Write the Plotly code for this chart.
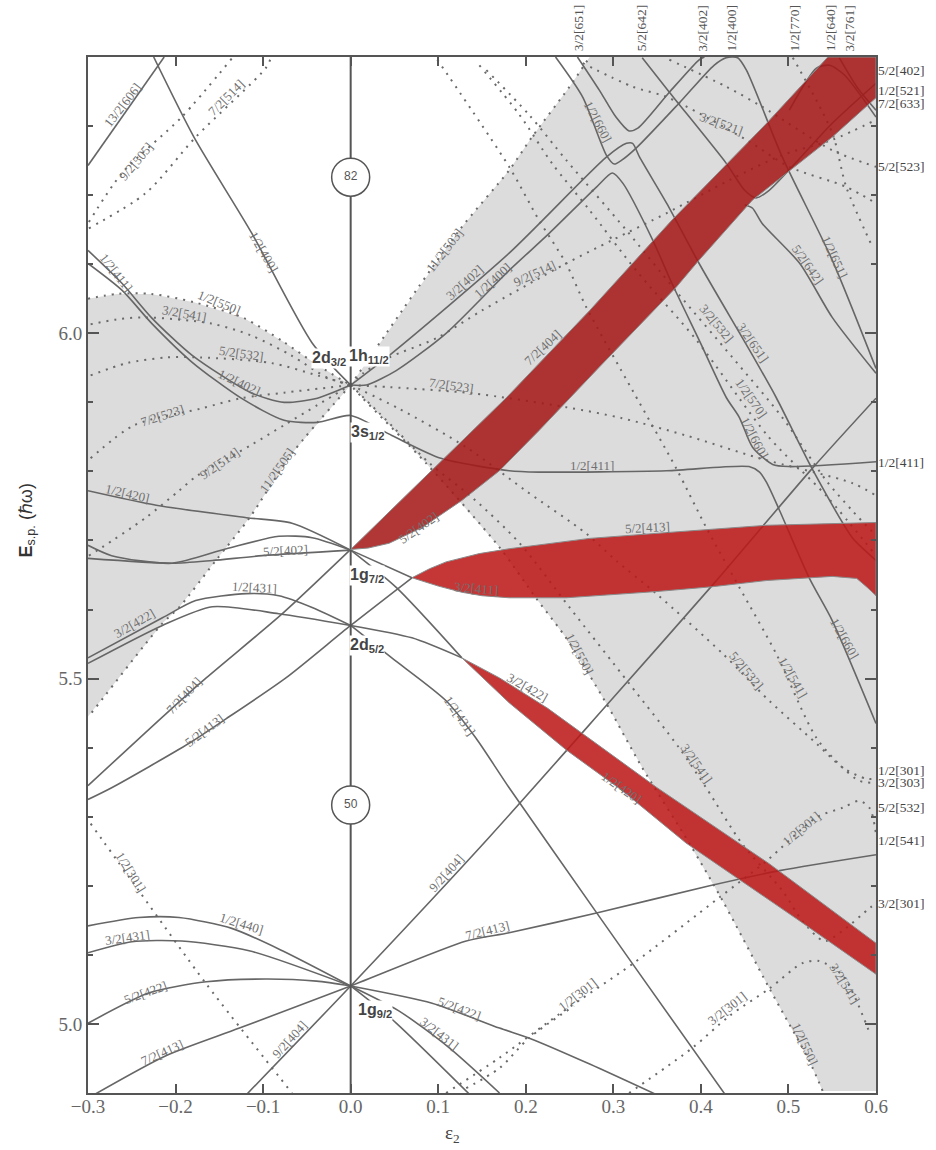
import plotly.graph_objects as go

# Axis
X_RANGE = [-0.3, 0.6]
Y_RANGE = [4.9, 6.4]
X_TICKS = [-0.3, -0.2, -0.1, 0.0, 0.1, 0.2, 0.3, 0.4, 0.5, 0.6]
X_TICK_TEXT = ["\u22120.3", "\u22120.2", "\u22120.1", "0.0", "0.1", "0.2", "0.3", "0.4", "0.5", "0.6"]
Y_TICKS = [5.0, 5.5, 6.0]
Y_TICK_TEXT = ["5.0", "5.5", "6.0"]

# Grey (unfavoured) regions: boundary orbitals
edge_550L = [(-0.3, 6.05), (-0.267, 6.057), (-0.228, 6.057), (-0.179, 6.045), (-0.122, 6.022), (-0.076, 5.987), (-0.038, 5.954), (0, 5.925)]
edge_505 = [(0, 5.925), (-0.067, 5.826), (-0.116, 5.732), (-0.154, 5.671), (-0.196, 5.603), (-0.215, 5.58), (-0.297, 5.449), (-0.3, 5.445)]
edge_503 = [(0, 5.925), (0.124, 6.149), (0.181, 6.236), (0.207, 6.284), (0.25, 6.357), (0.273, 6.4)]
edge_550R = [(0.539, 4.903), (0.524, 4.946), (0.478, 5.052), (0.425, 5.178), (0.387, 5.261), (0.333, 5.371), (0.292, 5.464), (0.246, 5.559), (0.212, 5.616), (0.17, 5.69), (0.086, 5.812), (0.013, 5.907), (0, 5.925)]
right_corners = [(0.6, 6.4), (0.6, 4.903)]

# Red bands
band1 = [(0, 5.687), (0.101, 5.812), (0.178, 5.907), (0.273, 6.033), (0.367, 6.164), (0.475, 6.304), (0.545, 6.4), (0.6, 6.4), (0.6, 6.341), (0.55, 6.284), (0.459, 6.193), (0.398, 6.106), (0.372, 6.067), (0.284, 5.951), (0.215, 5.859), (0.17, 5.801), (0.127, 5.758), (0.082, 5.719), (0.044, 5.696), (0.02, 5.689), (0, 5.687)]
band2 = [(0.07, 5.646), (0.09, 5.659), (0.109, 5.669), (0.147, 5.681), (0.181, 5.688), (0.273, 5.703), (0.367, 5.712), (0.475, 5.722), (0.6, 5.726), (0.6, 5.62), (0.59, 5.632), (0.578, 5.645), (0.55, 5.648), (0.475, 5.642), (0.413, 5.633), (0.349, 5.626), (0.246, 5.617), (0.181, 5.617), (0.15, 5.62), (0.127, 5.625), (0.1, 5.634), (0.07, 5.646)]
band3 = [(0.127, 5.53), (0.17, 5.501), (0.225, 5.457), (0.35, 5.342), (0.478, 5.232), (0.6, 5.117), (0.6, 5.072), (0.513, 5.149), (0.383, 5.262), (0.31, 5.338), (0.247, 5.396), (0.181, 5.465), (0.127, 5.53)]

# Positive-parity / solid orbitals
solid_curves = [
    [(-0.3, 6.243), (-0.213, 6.4)],
    [(-0.225, 6.4), (-0.179, 6.284), (-0.113, 6.145), (-0.044, 5.986), (0, 5.925)],
    [(-0.3, 6.12), (-0.261, 6.072), (-0.227, 6.022), (-0.181, 5.968), (-0.114, 5.914), (-0.076, 5.9), (-0.038, 5.906), (0, 5.925)],
    [(-0.3, 6.101), (-0.261, 6.062), (-0.227, 6.014), (-0.181, 5.958), (-0.125, 5.906), (-0.076, 5.874), (-0.038, 5.871), (0, 5.881), (0.047, 5.852), (0.103, 5.819), (0.181, 5.801), (0.215, 5.799), (0.361, 5.801), (0.455, 5.807), (0.467, 5.799), (0.475, 5.784), (0.49, 5.743), (0.524, 5.645), (0.55, 5.584), (0.6, 5.435)],
    [(0, 5.925), (0.047, 5.971), (0.181, 6.116), (0.292, 6.255), (0.315, 6.275), (0.322, 6.275), (0.33, 6.255), (0.361, 6.188), (0.398, 6.101), (0.459, 5.968), (0.486, 5.907), (0.527, 5.804), (0.573, 5.704), (0.587, 5.686), (0.6, 5.671)],
    [(0, 5.925), (0.018, 5.925), (0.052, 5.946), (0.109, 6.0), (0.181, 6.091), (0.227, 6.145), (0.281, 6.212), (0.299, 6.232), (0.311, 6.217), (0.345, 6.135), (0.367, 6.072), (0.398, 5.99), (0.429, 5.907), (0.444, 5.878), (0.459, 5.835), (0.482, 5.81), (0.501, 5.807), (0.6, 5.814)],
    [(0.234, 6.4), (0.265, 6.342), (0.292, 6.258), (0.301, 6.245), (0.31, 6.251), (0.326, 6.268), (0.375, 6.333), (0.415, 6.388), (0.429, 6.399), (0.442, 6.399), (0.452, 6.381), (0.493, 6.255), (0.55, 6.106), (0.6, 5.949)],
    [(0.259, 6.4), (0.284, 6.352), (0.303, 6.313), (0.318, 6.293), (0.328, 6.297), (0.364, 6.349), (0.398, 6.396), (0.404, 6.4)],
    [(0.333, 6.399), (0.364, 6.349), (0.429, 6.246), (0.45, 6.207), (0.463, 6.196), (0.478, 6.207), (0.55, 6.304), (0.6, 6.362)],
    [(0.45, 6.186), (0.459, 6.181), (0.47, 6.159), (0.513, 6.101), (0.55, 6.023), (0.6, 5.942)],
    [(0.501, 6.323), (0.532, 6.384), (0.547, 6.388), (0.564, 6.374), (0.6, 6.313)],
    [(0.558, 6.399), (0.579, 6.355), (0.6, 6.323)],
    [(-0.118, 4.899), (0, 5.055), (0.158, 5.27), (0.292, 5.461), (0.413, 5.635), (0.527, 5.804), (0.6, 5.906)],
    [(-0.3, 5.325), (-0.273, 5.342), (-0.185, 5.406), (-0.142, 5.442), (-0.074, 5.501), (0, 5.577), (0.07, 5.646)],
    [(-0.3, 5.345), (-0.211, 5.449), (-0.165, 5.501), (-0.078, 5.594), (0, 5.687)],
    [(0, 5.577), (0.047, 5.53), (0.109, 5.468), (0.143, 5.414), (0.181, 5.342), (0.282, 5.159), (0.322, 5.087), (0.427, 4.899)],
    [(0, 5.686), (0.07, 5.646)],
    [(0, 5.686), (0.052, 5.632), (0.127, 5.53)],
    [(0, 5.577), (0.07, 5.559), (0.127, 5.53)],
    [(-0.3, 5.674), (-0.204, 5.667), (-0.158, 5.671), (-0.101, 5.678), (0, 5.686)],
    [(-0.3, 5.772), (-0.222, 5.751), (-0.119, 5.733), (-0.067, 5.725), (0, 5.686)],
    [(-0.3, 5.693), (-0.273, 5.678), (-0.204, 5.667), (-0.142, 5.688), (-0.082, 5.706), (-0.044, 5.704), (0, 5.686)],
    [(-0.3, 5.522), (-0.215, 5.577), (-0.158, 5.604), (-0.082, 5.594), (0, 5.577)],
    [(-0.3, 5.53), (-0.215, 5.588), (-0.177, 5.613), (-0.119, 5.623), (-0.082, 5.62), (-0.044, 5.603), (0, 5.577)],
    [(-0.3, 5.142), (-0.242, 5.154), (-0.196, 5.154), (-0.135, 5.138), (-0.078, 5.106), (0, 5.055)],
    [(-0.3, 5.103), (-0.25, 5.119), (-0.193, 5.12), (-0.116, 5.106), (0, 5.055)],
    [(-0.3, 5.001), (-0.23, 5.045), (-0.165, 5.061), (-0.097, 5.065), (-0.039, 5.062), (0, 5.055)],
    [(-0.291, 4.899), (-0.211, 4.954), (-0.127, 4.994), (0, 5.055), (0.132, 5.12), (0.181, 5.132), (0.282, 5.161), (0.41, 5.2), (0.49, 5.222), (0.6, 5.245)],
    [(0, 5.055), (0.093, 5.03), (0.17, 4.994), (0.207, 4.978), (0.273, 4.942), (0.347, 4.899)],
    [(0, 5.055), (0.055, 5.019), (0.113, 4.965), (0.17, 4.9)],
    [(0, 5.055), (0.047, 5.007), (0.135, 4.899)],
]

# Negative-parity / dotted orbitals
dotted_curves = [
    edge_550L, edge_505, edge_503, edge_550R,
    [(-0.297, 5.29), (-0.242, 5.193), (-0.165, 5.058), (-0.067, 4.9)],
    [(-0.299, 6.161), (-0.261, 6.232), (-0.193, 6.313), (-0.135, 6.399)],
    [(-0.299, 6.152), (-0.234, 6.203), (-0.177, 6.284), (-0.097, 6.384), (-0.091, 6.399)],
    [(0.099, 6.396), (0.181, 6.241), (0.215, 6.164), (0.246, 6.101), (0.269, 6.038), (0.322, 5.917), (0.372, 5.804), (0.406, 5.719), (0.444, 5.632), (0.486, 5.536), (0.532, 5.414), (0.562, 5.371), (0.581, 5.352), (0.6, 5.349)],
    [(0.155, 6.381), (0.204, 6.316), (0.246, 6.251), (0.315, 6.149), (0.373, 6.059), (0.436, 5.965), (0.493, 5.878), (0.543, 5.787), (0.573, 5.743), (0.6, 5.707)],
    [(0.147, 6.388), (0.193, 6.316), (0.23, 6.246), (0.273, 6.178), (0.326, 6.091), (0.395, 5.99), (0.478, 5.849), (0.543, 5.765), (0.6, 5.678)],
    [(0, 5.925), (0.015, 5.943), (0.044, 5.965), (0.098, 5.993), (0.15, 6.033), (0.246, 6.101), (0.299, 6.135), (0.361, 6.174), (0.433, 6.222), (0.493, 6.258), (0.55, 6.28), (0.6, 6.309)],
    [(0, 5.925), (0.044, 5.922), (0.139, 5.913), (0.246, 5.893), (0.31, 5.877), (0.383, 5.852), (0.467, 5.819), (0.573, 5.783), (0.6, 5.765)],
    [(0.265, 6.391), (0.322, 6.357), (0.361, 6.342), (0.452, 6.28), (0.501, 6.241), (0.566, 6.212), (0.6, 6.188)],
    [(0.364, 6.396), (0.429, 6.357), (0.47, 6.328), (0.55, 6.265), (0.6, 6.241)],
    [(0.505, 6.399), (0.55, 6.29), (0.566, 6.212), (0.596, 6.125)],
    [(0, 5.925), (0.055, 5.891), (0.132, 5.835), (0.2, 5.772), (0.269, 5.71), (0.303, 5.671), (0.349, 5.623), (0.425, 5.536), (0.478, 5.468), (0.532, 5.406), (0.562, 5.371), (0.589, 5.355), (0.6, 5.355)],
    [(0, 5.925), (0.033, 5.884), (0.09, 5.812), (0.139, 5.762), (0.193, 5.696), (0.25, 5.603), (0.318, 5.493), (0.375, 5.4), (0.406, 5.342), (0.447, 5.261), (0.493, 5.193), (0.516, 5.149), (0.541, 5.12), (0.562, 5.135), (0.593, 5.168), (0.6, 5.174)],
    [(0.318, 4.9), (0.39, 4.965), (0.433, 5.012), (0.478, 5.051), (0.516, 5.088), (0.535, 5.091), (0.562, 5.07), (0.593, 4.986)],
    [(0.109, 4.9), (0.17, 4.951), (0.238, 5.014), (0.322, 5.087), (0.421, 5.183), (0.475, 5.236), (0.532, 5.299), (0.562, 5.313), (0.581, 5.323), (0.593, 5.312), (0.6, 5.275)],
    [(0.132, 4.907), (0.17, 4.936), (0.204, 4.98), (0.255, 5.026)],
    [(-0.297, 6.013), (-0.267, 6.02), (-0.236, 6.023), (-0.159, 6.014), (-0.114, 5.997), (-0.068, 5.968), (-0.027, 5.936), (0, 5.925)],
    [(-0.297, 5.939), (-0.255, 5.957), (-0.21, 5.965), (-0.171, 5.965), (-0.091, 5.957), (-0.038, 5.939), (0, 5.925)],
    [(-0.297, 5.819), (-0.247, 5.867), (-0.171, 5.891), (-0.125, 5.906), (-0.076, 5.914), (0, 5.925)],
    [(-0.299, 5.678), (-0.284, 5.69), (-0.234, 5.733), (-0.196, 5.772), (-0.175, 5.794), (-0.114, 5.838), (-0.076, 5.867), (-0.038, 5.896), (0, 5.925)],
]

# Orbital labels inside the plot: text, epsilon, energy, angle
orbital_labels = [
    ("13/2[606]", -0.261, 6.33, -52), ("9/2[505]", -0.245, 6.248, -50), ("7/2[514]", -0.142, 6.341, -45),
    ("1/2[400]", -0.099, 6.117, 60), ("1/2[411]", -0.268, 6.088, 52), ("1/2[550]", -0.15, 6.045, 22),
    ("3/2[541]", -0.19, 6.029, 10), ("5/2[532]", -0.125, 5.971, 8), ("1/2[402]", -0.127, 5.929, 25),
    ("7/2[523]", -0.215, 5.881, -18), ("9/2[514]", -0.15, 5.812, -35), ("11/2[505]", -0.084, 5.801, -55),
    ("1/2[420]", -0.255, 5.768, 13), ("5/2[402]", -0.074, 5.686, -3), ("1/2[431]", -0.11, 5.632, 3),
    ("3/2[422]", -0.247, 5.58, -30), ("7/2[404]", -0.19, 5.475, -47), ("5/2[413]", -0.167, 5.425, -37),
    ("1/2[431]", 0.124, 5.446, 55), ("1/2[301]", -0.251, 5.219, 58), ("1/2[440]", -0.125, 5.145, 17),
    ("3/2[431]", -0.255, 5.125, -8), ("5/2[422]", -0.234, 5.046, -20), ("7/2[413]", -0.215, 4.958, -24),
    ("9/2[404]", -0.07, 4.978, -48), ("9/2[404]", 0.11, 5.219, -48), ("7/2[413]", 0.156, 5.135, -14),
    ("5/2[422]", 0.124, 5.023, 20), ("3/2[431]", 0.101, 4.986, 38), ("1/2[301]", 0.259, 5.043, -38),
    ("3/2[301]", 0.43, 5.022, -38), ("1/2[301]", 0.515, 5.283, -40), ("3/2[541]", 0.564, 5.058, 58),
    ("1/2[550]", 0.518, 4.971, 65), ("1/2[420]", 0.309, 5.342, 35), ("3/2[422]", 0.202, 5.487, 30),
    ("1/2[550]", 0.261, 5.536, 62), ("3/2[541]", 0.395, 5.377, 55), ("5/2[532]", 0.452, 5.512, 50),
    ("1/2[541]", 0.505, 5.501, 60), ("1/2[660]", 0.564, 5.558, 60), ("5/2[413]", 0.339, 5.719, -3),
    ("1/2[411]", 0.276, 5.809, 0), ("3/2[411]", 0.143, 5.63, 5), ("5/2[402]", 0.078, 5.719, -35),
    ("1/2[660]", 0.461, 5.849, 62), ("1/2[570]", 0.458, 5.906, 55), ("3/2[532]", 0.418, 6.014, 50),
    ("3/2[651]", 0.459, 5.986, 55), ("5/2[642]", 0.522, 6.099, 55), ("1/2[651]", 0.553, 6.11, 65),
    ("3/2[521]", 0.423, 6.304, 20), ("1/2[660]", 0.282, 6.306, 62), ("7/2[404]", 0.219, 5.98, -43),
    ("9/2[514]", 0.21, 6.087, -25), ("1/2[400]", 0.162, 6.077, -42), ("3/2[402]", 0.13, 6.074, -42),
    ("11/2[503]", 0.107, 6.12, -52), ("7/2[523]", 0.115, 5.925, 8),
]
top_labels = [("3/2[651]", 0.261), ("5/2[642]", 0.333), ("3/2[402]", 0.402), ("1/2[400]", 0.436), ("1/2[770]", 0.507), ("1/2[640]", 0.549), ("3/2[761]", 0.57)]
right_labels = [("5/2[402]", 6.381), ("1/2[521]", 6.352), ("7/2[633]", 6.333), ("5/2[523]", 6.241), ("1/2[411]", 5.813), ("1/2[301]", 5.367), ("3/2[303]", 5.349), ("5/2[532]", 5.313), ("1/2[541]", 5.265), ("3/2[301]", 5.174)]
shell_labels = [("1g<sub>9/2</sub>", 0.028, 5.02), ("2d<sub>5/2</sub>", 0.019, 5.548), ("1g<sub>7/2</sub>", 0.019, 5.649), ("3s<sub>1/2</sub>", 0.019, 5.857), ("2d<sub>3/2</sub>", -0.025, 5.964), ("1h<sub>11/2</sub>", 0.021, 5.967)]
magic_numbers = ["82", "50"]
magic_energy = [6.226, 5.317]

LINE = "#666666"
SERIF = "Liberation Serif"
SANS = "Liberation Sans"


def xs(curve):
    return [p[0] for p in curve]


def ys(curve):
    return [p[1] for p in curve]


fig = go.Figure()


def area(points, color, line=None):
    fig.add_trace(go.Scatter(x=xs(points), y=ys(points), mode="lines", fill="toself", fillcolor=color,
                             line=line or dict(width=0), hoverinfo="skip", showlegend=False))


area(edge_550L + edge_505, "#dcdcdc")
area(edge_503 + right_corners + edge_550R, "#dcdcdc")

for c in dotted_curves:
    fig.add_trace(go.Scatter(x=xs(c), y=ys(c), mode="lines", showlegend=False, hoverinfo="skip",
                             line=dict(color="#6a6a6a", width=2, dash="2px,6px", shape="spline", smoothing=0.8)))
for c in solid_curves:
    fig.add_trace(go.Scatter(x=xs(c), y=ys(c), mode="lines", showlegend=False, hoverinfo="skip",
                             line=dict(color=LINE, width=1.6, shape="spline", smoothing=0.7)))
fig.add_trace(go.Scatter(x=[0, 0], y=Y_RANGE, mode="lines", showlegend=False, hoverinfo="skip",
                         line=dict(color="#555555", width=2)))

area(band1, "rgba(165,25,25,0.87)", dict(color="#8a8a8a", width=1))
area(band2, "rgba(188,25,25,0.87)", dict(color="#8a8a8a", width=1))
area(band3, "rgba(188,25,25,0.87)", dict(color="#8a8a8a", width=1))

fig.add_trace(go.Scatter(x=[0, 0], y=magic_energy, mode="markers+text", text=magic_numbers, textposition="middle center",
                         textfont=dict(family=SANS, size=12, color="#555555"), showlegend=False, hoverinfo="skip",
                         marker=dict(size=38, color="white", line=dict(color="#555555", width=1.5))))

ann = []
for t, x, y, a in orbital_labels:
    ann.append(dict(x=x, y=y, text=t, textangle=a, showarrow=False, font=dict(family=SERIF, size=13, color="#707070")))
for t, x in top_labels:
    ann.append(dict(x=x, xref="x", y=1.028, yref="paper", yanchor="middle", text=t, textangle=-90, showarrow=False,
                    font=dict(family=SERIF, size=13.5, color="#555555")))
for t, y in right_labels:
    ann.append(dict(x=0.6, y=y, text=t, xanchor="left", xshift=0, showarrow=False,
                    font=dict(family=SERIF, size=13.5, color="#444444")))
for t, x, y in shell_labels:
    ann.append(dict(x=x, y=y, text="<b>" + t + "</b>", showarrow=False, bgcolor="white", borderpad=0,
                    font=dict(family=SANS, size=16, color="#444444")))
ann.append(dict(x=-0.0774, xref="paper", xanchor="center", y=5.729, text="<b>E</b><sub>s.p.</sub> (\u210f\u03c9)", textangle=-90, showarrow=False,
                font=dict(family=SANS, size=18, color="#333333")))
ann.append(dict(x=0.116, y=-0.04, yref="paper", yanchor="middle", text="\u03b5<sub>2</sub>", showarrow=False,
                font=dict(family=SERIF, size=19, color="#444444")))

axis_common = dict(showgrid=False, zeroline=False, showline=True, linecolor="#555555", linewidth=2, mirror="ticks",
                   ticks="inside", tickcolor="#555555", tickwidth=1.5, tickfont=dict(family=SERIF, size=19, color="#666666"))
fig.update_layout(
    width=936, height=1150, margin=dict(l=88, r=60, t=57, b=57), autosize=False,
    paper_bgcolor="white", plot_bgcolor="white", showlegend=False, annotations=ann,
    xaxis=dict(range=X_RANGE, tickvals=X_TICKS, ticktext=X_TICK_TEXT, ticklen=9, ticklabelstandoff=-5, **axis_common),
    yaxis=dict(range=Y_RANGE, tickvals=Y_TICKS, ticktext=Y_TICK_TEXT, ticklen=11,
               minor=dict(dtick=0.1, ticks="inside", ticklen=5, tickcolor="#555555", showgrid=False), **axis_common),
)
fig.write_html("out.html", config=dict(displayModeBar=False), post_script="document.body.style.margin='0';")
